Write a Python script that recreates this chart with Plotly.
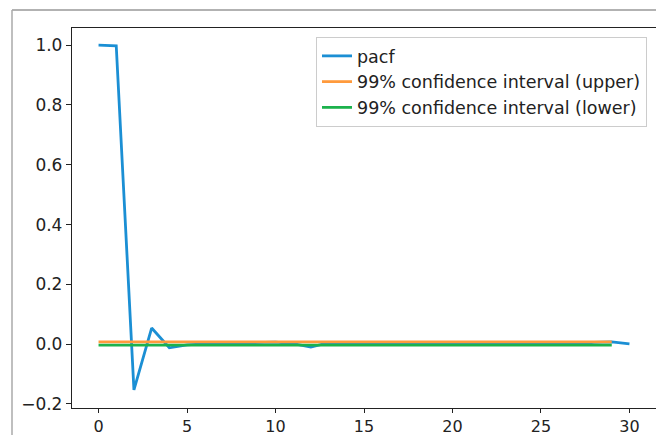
import plotly.graph_objects as go

lags = list(range(31))
pacf = [1.0, 0.998, -0.153, 0.054, -0.012, -0.002, 0.001, 0.002, 0.005, 0.004,
        0.007, 0.002, -0.010, 0.005, 0.004, 0.003, 0.005, 0.004, 0.003, 0.002,
        0.002, 0.001, 0.002, 0.003, 0.002, 0.002, 0.003, 0.001, 0.006, 0.008, 0.001]
ci_lags = list(range(30))
ci_upper = [0.0075] * 30
ci_lower = [-0.0035] * 30

# page body has an 8px margin, so the figure is offset by 8px
OFF = 8
W, H = 664 - OFF, 435 - OFF
L, R, T, B = 72 - OFF, 656 - OFF, 28 - OFF, 408 - OFF

def px(x):
    return (x - OFF - L) / (R - L)

def py(y):
    return (B - (y - OFF)) / (B - T)

fig = go.Figure()
fig.add_trace(go.Scatter(x=lags, y=pacf, mode="lines", name="pacf",
                         line=dict(color="#1b8fd4", width=2.8)))
fig.add_trace(go.Scatter(x=ci_lags, y=ci_upper, mode="lines",
                         name="99% confidence interval (upper)",
                         line=dict(color="#ff9a3c", width=2.8)))
fig.add_trace(go.Scatter(x=ci_lags, y=ci_lower, mode="lines",
                         name="99% confidence interval (lower)",
                         line=dict(color="#1cb24c", width=2.8)))

axis_common = dict(showgrid=False, zeroline=False, showline=True, mirror=True,
                   linecolor="#222222", linewidth=1.3, ticks="outside",
                   tickwidth=1, tickcolor="#222222", automargin=False)

fig.update_layout(
    width=W, height=H,
    margin=dict(l=L, r=W - R, t=T, b=H - B, autoexpand=False),
    paper_bgcolor="white", plot_bgcolor="white",
    xaxis=dict(range=[-1.5, 31.5], tickvals=[0, 5, 10, 15, 20, 25, 30],
               ticklen=4,
               tickfont=dict(family="DejaVu Sans", size=16, color="#222222"),
               **axis_common),
    yaxis=dict(range=[-0.2135, 1.0575], tickvals=[-0.2, 0.0, 0.2, 0.4, 0.6, 0.8, 1.0],
               tickformat=".1f", ticklen=5,
               tickfont=dict(family="DejaVu Sans", size=17, color="#222222"),
               **axis_common),
    legend=dict(x=px(647), y=py(37), xanchor="right", yanchor="top",
                bgcolor="white", bordercolor="#cccccc", borderwidth=1,
                font=dict(family="DejaVu Sans", size=17.5, color="#222222"),
                itemwidth=30, tracegroupgap=0),
    showlegend=True,
)

# outer screenshot frame
fig.add_shape(type="line", xref="paper", yref="paper",
              x0=px(12), x1=px(664), y0=py(10), y1=py(10),
              line=dict(color="#999999", width=1.5))
fig.add_shape(type="line", xref="paper", yref="paper",
              x0=px(12), x1=px(12), y0=py(10), y1=py(435),
              line=dict(color="#aaaaaa", width=1.5))

fig.write_html("out.html")
